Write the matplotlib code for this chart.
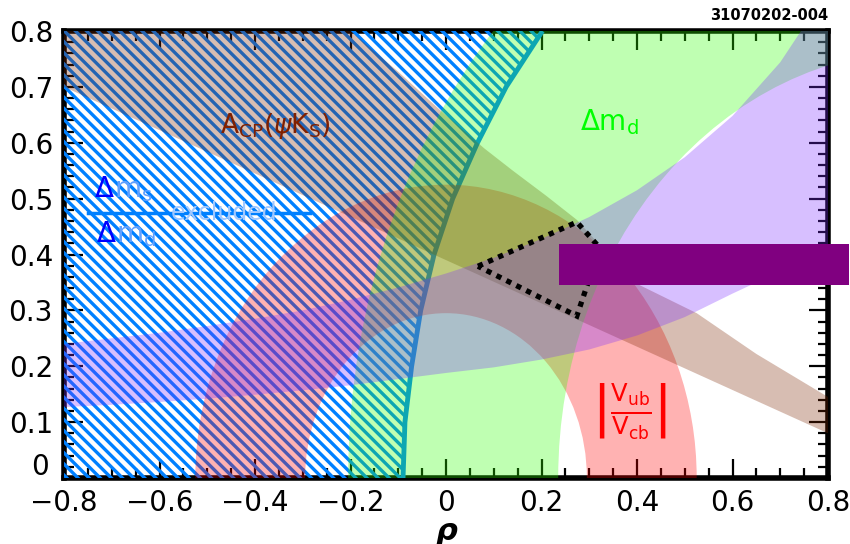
import numpy as np
import matplotlib
matplotlib.use("Agg")
import matplotlib.pyplot as plt
from matplotlib.patches import Polygon, Wedge, Rectangle
from matplotlib.ticker import MultipleLocator, FixedLocator, FixedFormatter

plt.rcParams['font.family'] = ['DejaVu Sans']
plt.rcParams['hatch.linewidth'] = 2.4
plt.rcParams['mathtext.fontset'] = 'dejavusans'

# ---------------- data ----------------
# Delta m_s / Delta m_d exclusion: region left of this boundary is excluded
dms_eta = [0.0, 0.1, 0.2, 0.3, 0.4, 0.5, 0.6, 0.7, 0.8]
dms_rho = [-0.090, -0.086, -0.072, -0.053, -0.025, 0.014, 0.066, 0.126, 0.202]

# Delta m_d band: annulus around (1, 0)
dmd_center = (1.0, 0.0)
dmd_radii = (0.765, 1.205)

# |Vub/Vcb| band: annulus around (0, 0)
vub_center = (0.0, 0.0)
vub_radii = (0.295, 0.525)

# eps_K band (lower / upper eta versus rho)
epsk_rho = [-0.8, -0.7, -0.6, -0.5, -0.4, -0.3, -0.2, -0.1, 0.0,
            0.1, 0.2, 0.3, 0.4, 0.5, 0.6, 0.7, 0.8]
epsk_lo = [0.127, 0.131, 0.136, 0.142, 0.149, 0.157, 0.166, 0.177, 0.188,
           0.198, 0.212, 0.230, 0.255, 0.288, 0.330, 0.370, 0.410]
epsk_hi = [0.240, 0.250, 0.260, 0.272, 0.285, 0.300, 0.319, 0.341, 0.366,
           0.394, 0.428, 0.467, 0.515, 0.574, 0.648, 0.744, 0.873]

# A_CP(psi K_S) band outline
acp_rho = [-0.8, -0.2, -0.1, -0.013, 0.08, 0.14, 0.21, 0.274, 0.34, 0.406,
           0.525, 0.65, 0.8, 0.8, -0.8]
acp_eta = [0.8, 0.8, 0.727, 0.659, 0.59, 0.55, 0.505, 0.462, 0.40, 0.345,
           0.295, 0.222, 0.145, 0.08, 0.70]

# allowed region (dotted outline)
fit_rho = [0.067, 0.274, 0.322, 0.274]
fit_eta = [0.379, 0.458, 0.412, 0.290]

# purple bar
bar_rho = (0.236, 0.845)
bar_eta = (0.345, 0.419)

xticks = [-0.8, -0.6, -0.4, -0.2, 0.0, 0.2, 0.4, 0.6, 0.8]
xticklabels = ['\u22120.8', '\u22120.6', '\u22120.4', '\u22120.2', '0', '0.2', '0.4', '0.6', '0.8']
yticks = [0.0, 0.1, 0.2, 0.3, 0.4, 0.5, 0.6, 0.7, 0.8]
yticklabels = ['', '0.1', '0.2', '0.3', '0.4', '0.5', '0.6', '0.7', '0.8']

# ---------------- figure ----------------
W, H = 850, 544
fig = plt.figure(figsize=(W / 100, H / 100), dpi=100)
ax = fig.add_axes([64 / W, 66 / H, (828 - 64) / W, (478 - 31) / H])
ax.set_xlim(-0.8, 0.8)
ax.set_ylim(0.0, 0.8)
ax.set_axisbelow(True)

A = 0.3
col_green = (45 / 255, 1.0, 0.0)
col_lav = (125 / 255, 45 / 255, 1.0)
col_pink = (1.0, 0.0, 0.0)
col_brown = (125 / 255, 38 / 255, 0.0)

# hatched exclusion region
hx = [-0.8] + dms_rho[::-1] + [-0.8]
hy = [0.8] + dms_eta[::-1] + [0.0]
ax.add_patch(Polygon(list(zip(hx, hy)), closed=True, facecolor='none',
                     edgecolor='#0080ff', hatch='\\\\\\', lw=0, zorder=1))
ax.plot(dms_rho, dms_eta, color='#0080ff', lw=3.5, zorder=1.1,
        solid_capstyle='butt')

# |Vub/Vcb| band
ax.add_patch(Wedge(vub_center, vub_radii[1], 0, 180,
                   width=vub_radii[1] - vub_radii[0],
                   facecolor=col_pink, alpha=A, lw=0, zorder=2.0))
# A_CP band
ax.add_patch(Polygon(list(zip(acp_rho, acp_eta)), closed=True,
                     facecolor=col_brown, alpha=A, lw=0, zorder=2.1))
# Delta m_d band
ax.add_patch(Wedge(dmd_center, dmd_radii[1], 90, 180,
                   width=dmd_radii[1] - dmd_radii[0],
                   facecolor=col_green, alpha=A, lw=0, zorder=2.2))
# eps_K band
ax.fill_between(epsk_rho, epsk_lo, epsk_hi, facecolor=col_lav, alpha=A,
                lw=0, zorder=2.3)

# dotted allowed region
ax.add_patch(Polygon(list(zip(fit_rho, fit_eta)), closed=True, fill=False,
                     edgecolor='black', lw=3.8, linestyle=(0, (1, 1.1)),
                     zorder=4))

# purple bar (extends past the frame)
ax.add_patch(Rectangle((bar_rho[0], bar_eta[0]), bar_rho[1] - bar_rho[0],
                       bar_eta[1] - bar_eta[0], facecolor='#800080',
                       edgecolor='none', clip_on=False, zorder=5))

# labels inside
ax.text(-0.473, 0.617, r'$\mathrm{A}_{\mathrm{CP}}(\psi\mathrm{K}_{\mathrm{S}})$',
        color='#802000', fontsize=19, va='baseline', ha='left', zorder=3)
ax.text(0.280, 0.623, r'$\Delta\mathrm{m}_{\mathrm{d}}$', color='#00ff00',
        fontsize=20, va='baseline', ha='left', zorder=3)
ax.text(-0.738, 0.503, r'$\Delta$', color='#0000ff', fontsize=20,
        va='baseline', ha='left', zorder=3)
ax.text(-0.695, 0.503, r'$\mathrm{m}_{\mathrm{s}}$', color='#60a0ff', fontsize=20,
        va='baseline', ha='left', zorder=3)
ax.text(-0.734, 0.422, r'$\Delta$', color='#0000ff', fontsize=20,
        va='baseline', ha='left', zorder=3)
ax.text(-0.691, 0.422, r'$\mathrm{m}_{\mathrm{d}}$', color='#60a0ff', fontsize=20,
        va='baseline', ha='left', zorder=3)
ax.plot([-0.75, -0.285], [0.474, 0.474], color='#0080ff', lw=2.5, zorder=3)
ax.text(-0.577, 0.474, 'excluded', color='#a0c8ff', fontsize=17,
        va='center', ha='left', zorder=3)
ax.text(0.385, 0.12,
        r'$\left|\frac{\mathrm{V}_{\mathrm{ub}}}{\mathrm{V}_{\mathrm{cb}}}\right|$',
        color='red', fontsize=25, va='center', ha='center', zorder=3)

# axes styling
ax.xaxis.set_major_locator(FixedLocator(xticks))
ax.xaxis.set_major_formatter(FixedFormatter(xticklabels))
ax.yaxis.set_major_locator(FixedLocator(yticks))
ax.yaxis.set_major_formatter(FixedFormatter(yticklabels))
ax.xaxis.set_minor_locator(MultipleLocator(0.05))
ax.yaxis.set_minor_locator(MultipleLocator(0.02))
ax.tick_params(which='both', direction='in', top=True, right=True,
               color='black')
ax.tick_params(which='major', length=14, width=1.6, labelsize=20, pad=8)
ax.tick_params(which='minor', length=7, width=1.6)
for s in ax.spines.values():
    s.set_linewidth(4)
    s.set_zorder(0.6)

# the "0" of the eta axis sits a little higher, as in the reference
ax.annotate('0', xy=(xticks[0], yticks[0]),
            xytext=(-11, 8), textcoords='offset points', fontsize=20,
            ha='right', va='center', annotation_clip=False)

fig.text(447 / W, 1 - 531 / H, '\u03c1', fontsize=22, fontweight='bold',
         style='italic', ha='center', va='center')
fig.text(828 / W, 1 - 15 / H, '31070202-004', fontsize=10.5, fontweight='bold',
         ha='right', va='center')

fig.savefig('out.png', dpi=100, facecolor='white')
